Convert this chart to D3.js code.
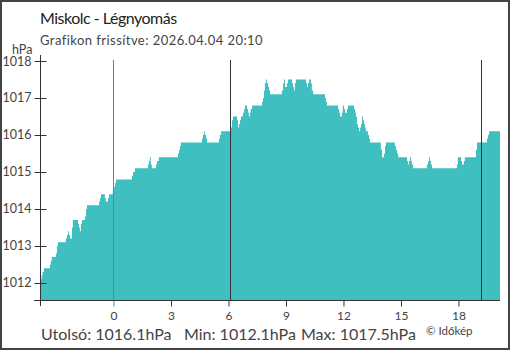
<!DOCTYPE html>
<html>
<head>
<meta charset="utf-8">
<script src="https://d3js.org/d3.v7.min.js"></script>
<style>
  html, body { margin: 0; padding: 0; background: #fff; }
  svg { display: block; font-family: Lato, "Noto Sans", sans-serif; }
</style>
</head>
<body>
<div id="graph"></div>
<script>
// Miskolc pressure, change points (step after)
var times = [
  "20:10","20:15","20:18","20:22","20:41","20:44","20:47","21:00","21:03","21:06",
  "21:31","21:34","21:38","21:41","21:44","21:50","21:53","22:09","22:12","22:15",
  "22:18","22:21","22:31","22:34","22:37","23:15","23:18","23:21","23:33","23:36",
  "23:43","23:46","23:58","00:02","00:05","00:08","00:58","01:01","01:07","01:48",
  "01:51","01:54","01:57","02:00","02:13","02:16","02:22","03:22","03:25","03:28",
  "03:31","04:37","04:40","04:43","04:46","04:50","04:53","05:30","05:33","05:37",
  "06:08","06:11","06:14","06:27","06:30","06:33","06:36","06:39","06:45","06:49",
  "06:52","06:58","07:01","07:04","07:07","07:10","07:14","07:45","07:48","07:51",
  "07:54","07:57","08:00","08:04","08:07","08:10","08:47","08:51","08:54","08:57",
  "09:03","09:06","09:19","09:22","09:25","09:28","09:31","10:03","10:06","10:09",
  "10:12","10:18","10:21","10:25","11:02","11:05","11:08","11:43","11:46","11:49",
  "11:55","11:58","12:02","12:05","12:11","12:14","12:33","12:36","12:39","12:42",
  "12:45","12:49","12:52","12:55","12:58","13:01","13:04","13:07","13:10","13:17",
  "13:20","13:23","13:57","14:01","14:07","14:10","14:13","14:41","14:44","14:48",
  "14:51","15:19","15:22","15:25","15:28","15:31","15:34","15:38","16:21","16:25",
  "16:28","16:31","16:34","16:37","17:55","17:58","18:08","18:11","18:17","18:20",
  "18:55","18:58","19:29","19:32","19:36","20:10"];
var pressure = [
  1012.1,1012.2,1012.3,1012.4,1012.5,1012.6,1012.7,1012.8,1013.0,1013.1,
  1013.2,1013.3,1013.4,1013.3,1013.2,1013.5,1013.7,1013.6,1013.5,1013.4,
  1013.6,1013.7,1013.8,1014.0,1014.1,1014.2,1014.3,1014.4,1014.3,1014.2,
  1014.3,1014.4,1014.5,1014.6,1014.7,1014.8,1014.9,1015.0,1015.1,1015.2,
  1015.3,1015.4,1015.2,1015.1,1015.2,1015.3,1015.4,1015.5,1015.6,1015.7,
  1015.8,1015.9,1016.0,1016.1,1016.0,1015.9,1015.8,1015.9,1016.0,1016.1,
  1016.2,1016.4,1016.5,1016.4,1016.2,1016.3,1016.4,1016.5,1016.6,1016.7,
  1016.8,1016.7,1016.6,1016.5,1016.6,1016.7,1016.8,1016.9,1017.0,1017.2,
  1017.4,1017.5,1017.4,1017.3,1017.2,1017.1,1017.2,1017.4,1017.5,1017.3,
  1017.4,1017.5,1017.4,1017.3,1017.2,1017.4,1017.5,1017.4,1017.3,1017.4,
  1017.5,1017.4,1017.2,1017.1,1017.0,1016.9,1016.8,1016.7,1016.6,1016.5,
  1016.6,1016.8,1016.7,1016.6,1016.7,1016.8,1016.7,1016.6,1016.5,1016.3,
  1016.2,1016.1,1016.2,1016.3,1016.5,1016.4,1016.3,1016.2,1016.1,1016.0,
  1015.9,1015.8,1015.6,1015.4,1015.5,1015.7,1015.8,1015.7,1015.6,1015.5,
  1015.4,1015.3,1015.2,1015.3,1015.4,1015.3,1015.2,1015.1,1015.2,1015.3,
  1015.4,1015.3,1015.2,1015.1,1015.2,1015.4,1015.3,1015.2,1015.3,1015.4,
  1015.6,1015.8,1015.9,1016.0,1016.1,1016.1];

var yTicks = [1012, 1013, 1014, 1015, 1016, 1017, 1018];
var xTicks = [0, 3, 6, 9, 12, 15, 18];
var markerTimes = ["00:00", "06:05", "19:11"];   // midnight, sunrise, sunset
var titleText = "Miskolc - Légnyomás";
var subtitleText = "Grafikon frissítve: 2026.04.04 20:10";
var footerTexts = ["Utolsó: 1016.1hPa", "Min: 1012.1hPa", "Max: 1017.5hPa"];
var creditText = "© Időkép";

const fullwidth = 510;
const fullheight = 350;

// turn clock strings into hours from midnight, the first ones belong to the day before
var hours = [];
var dayOffset = -24, last = -1;
for (var i = 0; i < times.length; ++i) {
  var p = times[i].split(":");
  var h = +p[0] + p[1] / 60;
  if (h < last) dayOffset = 0;
  last = h;
  hours.push(h + dayOffset);
}
var data = hours.map((h, i) => ({ h: h, v: pressure[i] }));
function toHour(s) { var p = s.split(":"); return +p[0] + p[1] / 60; }

var xScale = d3.scaleLinear()
  .domain([hours[0], hours[hours.length - 1]])
  .range([40, 500]);
var yScale = d3.scaleLinear()
  .domain([1011.54, 1018])
  .range([300, 61]);

var svg = d3.select("#graph").append("svg")
  .attr("width", fullwidth)
  .attr("height", fullheight);

// frame
svg.append("rect")
  .attr("x", 1).attr("y", 1)
  .attr("width", fullwidth - 2).attr("height", fullheight - 2)
  .attr("fill", "#fff").attr("stroke", "#444").attr("stroke-width", 2);

// titles
svg.append("text").attr("x", 40).attr("y", 24)
  .style("font-size", "16px").style("letter-spacing", "-0.5px")
  .attr("fill", "#222").text(titleText);
svg.append("text").attr("x", 40).attr("y", 45)
  .style("font-size", "13px").style("letter-spacing", "0.45px")
  .attr("fill", "#444").text(subtitleText);
svg.append("text").attr("x", 12).attr("y", 54)
  .style("font-size", "12.5px").attr("fill", "#444").text("hPa");

// area
var area = d3.area()
  .curve(d3.curveStepAfter)
  .x(d => xScale(d.h))
  .y0(yScale(yScale.domain()[0]))
  .y1(d => yScale(d.v));
svg.append("path").datum(data)
  .attr("d", area)
  .attr("fill", "#40bfc1");

// day / sun lines
svg.selectAll(".marker")
  .data(markerTimes)
  .enter().append("line")
    .attr("class", "marker")
    .attr("x1", d => Math.round(xScale(toHour(d))) + 0.5)
    .attr("x2", d => Math.round(xScale(toHour(d))) + 0.5)
    .attr("y1", 60).attr("y2", 300)
    .attr("stroke", (d, i) => i === 0 ? "#3d8ec8" : "#333")
    .attr("stroke-width", 1);

// y axis
var yAxis = d3.axisLeft(yScale).tickValues(yTicks).tickSize(6).tickPadding(3).tickFormat(d3.format("d"));
var gy = svg.append("g")
  .attr("transform", "translate(40.5,0)")
  .call(yAxis);
gy.select(".domain").remove();
gy.selectAll(".tick line").attr("x1", 6).attr("stroke", "#333");
gy.selectAll(".tick text").attr("fill", "#444")
  .style("font-size", "12.5px").style("font-family", "Lato, 'Noto Sans', sans-serif");
gy.append("line").attr("x1", 0).attr("x2", 0).attr("y1", 55).attr("y2", 306)
  .attr("stroke", "#333");

// x axis
var xAxis = d3.axisBottom(xScale).tickValues(xTicks).tickSize(6).tickPadding(5);
var gx = svg.append("g")
  .attr("transform", "translate(0,300.5)")
  .call(xAxis);
gx.select(".domain").remove();
gx.selectAll(".tick line").attr("stroke", (d) => d === 0 ? "#3d8ec8" : "#333");
gx.selectAll(".tick text").attr("fill", "#444")
  .style("font-size", "12px").style("font-family", "Lato, 'Noto Sans', sans-serif");
gx.append("line").attr("x1", 34).attr("x2", 500).attr("y1", 0).attr("y2", 0)
  .attr("stroke", "#333");

// footer
var footerX = [41, 184, 301];
svg.selectAll(".footer")
  .data(footerTexts)
  .enter().append("text")
    .attr("class", "footer")
    .attr("x", (d, i) => footerX[i])
    .attr("y", 340)
    .style("font-size", "16px")
    .attr("fill", "#444")
    .text(d => d);
svg.append("text").attr("x", 426).attr("y", 335)
  .style("font-size", "11.5px").attr("fill", "#444").text(creditText);
</script>
</body>
</html>
